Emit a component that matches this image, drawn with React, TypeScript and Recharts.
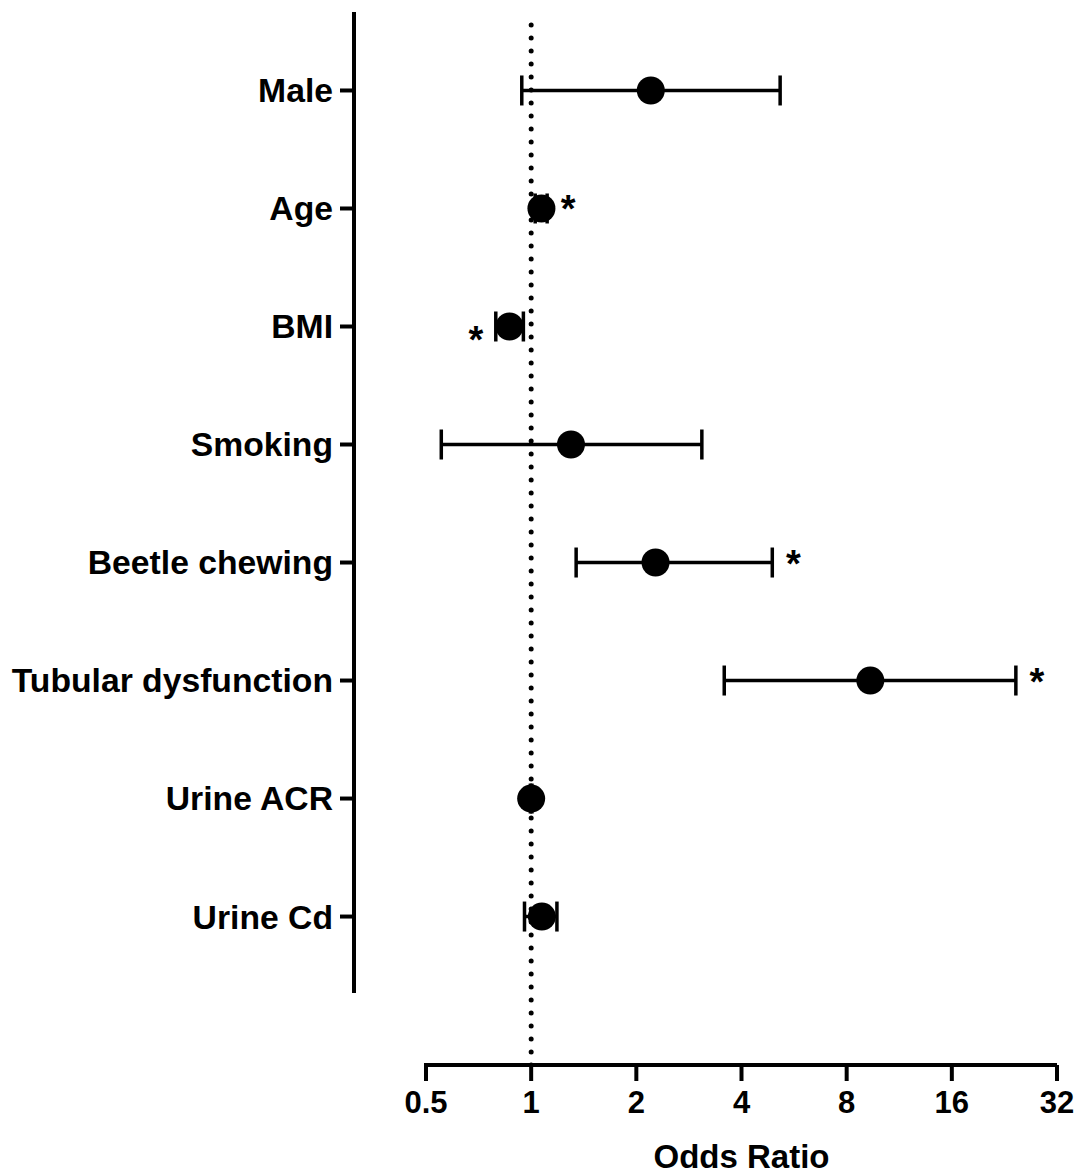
import React from 'react';
import { ScatterChart, Scatter, XAxis, YAxis, ErrorBar, ReferenceLine } from 'recharts';

const categories = ['Male', 'Age', 'BMI', 'Smoking', 'Beetle chewing', 'Tubular dysfunction', 'Urine ACR', 'Urine Cd'];
const oddsRatio = [2.2, 1.07, 0.867, 1.3, 2.27, 9.35, 1.0, 1.073];
const ciLower = [0.94, 1.027, 0.792, 0.553, 1.345, 3.57, 0.995, 0.957];
const ciUpper = [5.16, 1.111, 0.95, 3.08, 4.9, 24.4, 1.005, 1.185];
const significance = ['', 'right', 'left', '', 'right', 'right', '', ''];
const xTicks = [0.5, 1, 2, 4, 8, 16, 32];
const rowTicks = categories.map((_, i) => i);

const FONT = '"Liberation Sans", Arial, sans-serif';
const X_PAD_LEFT = 72;

const points = categories.map((name, i) => ({
  name,
  x: oddsRatio[i],
  y: i,
  err: [oddsRatio[i] - ciLower[i], ciUpper[i] - oddsRatio[i]],
}));

const stars = categories
  .map((name, i) => ({
    name,
    side: significance[i],
    x: significance[i] === 'left' ? ciLower[i] : ciUpper[i],
    y: i,
  }))
  .filter((s) => s.side !== '');

const Dot = (p: any) => <circle cx={p.cx} cy={p.cy} r={14} fill="#000" />;

const Star = (p: any) => {
  const left = p.payload.side === 'left';
  return (
    <text
      x={p.cx + (left ? -20 : 21)}
      y={p.cy + (left ? 27 : 14)}
      textAnchor="middle"
      fontFamily={FONT}
      fontWeight={700}
      fontSize={38}
      fill="#000"
    >
      *
    </text>
  );
};

const XTitle = (props: any) => {
  const vb = props.viewBox || {};
  const cx = vb.x + X_PAD_LEFT + (vb.width - X_PAD_LEFT) / 2;
  return (
    <text x={cx} y={vb.y + vb.height - 8} textAnchor="middle" fontFamily={FONT} fontWeight={700} fontSize={33} fill="#000">
      Odds Ratio
    </text>
  );
};

export default function App() {
  return (
    <div style={{ position: 'absolute', left: 0, top: 0, background: '#fff' }}>
      <ScatterChart width={1081} height={1176} margin={{ top: 12, right: 24, bottom: 0, left: 0 }}>
        <XAxis
          type="number"
          dataKey="x"
          scale="log"
          domain={[0.5, 32]}
          ticks={xTicks}
          allowDataOverflow
          interval={0}
          padding={{ left: X_PAD_LEFT, right: 0 }}
          height={111}
          tickSize={16}
          tickMargin={10}
          axisLine={{ stroke: '#000', strokeWidth: 4, strokeDasharray: `0 ${X_PAD_LEFT - 2} 3000` }}
          tickLine={{ stroke: '#000', strokeWidth: 4 }}
          tick={{ fill: '#000', fontSize: 31, fontWeight: 700, fontFamily: FONT }}
          label={{ content: XTitle }}
        />
        <YAxis
          type="number"
          dataKey="y"
          domain={[-0.665, 8.258]}
          reversed
          allowDataOverflow
          ticks={rowTicks}
          interval={0}
          tickFormatter={(v: number) => categories[v]}
          width={354}
          tickSize={14}
          tickMargin={7}
          axisLine={{ stroke: '#000', strokeWidth: 4, strokeDasharray: '981 3000' }}
          tickLine={{ stroke: '#000', strokeWidth: 4 }}
          tick={{ fill: '#000', fontSize: 33.7, fontWeight: 700, fontFamily: FONT }}
        />
        <ReferenceLine x={1} stroke="#000" strokeWidth={5} strokeDasharray="0 13" strokeLinecap="round" />
        <Scatter data={points} shape={Dot} isAnimationActive={false}>
          <ErrorBar dataKey="err" direction="x" width={15} strokeWidth={3.5} stroke="#000" isAnimationActive={false} />
        </Scatter>
        <Scatter data={stars} shape={Star} isAnimationActive={false} />
      </ScatterChart>
    </div>
  );
}
